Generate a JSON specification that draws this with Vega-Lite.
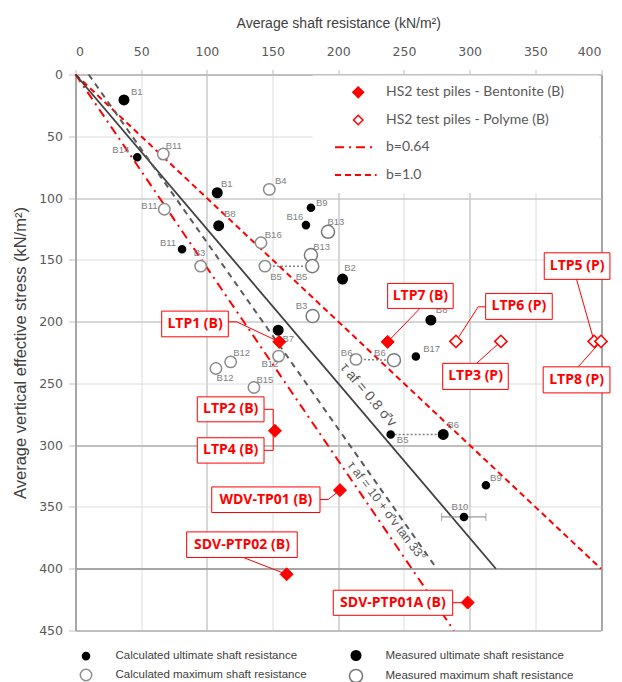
{
  "$schema": "https://vega.github.io/schema/vega-lite/v6.json",
  "width": 525.5,
  "height": 556,
  "autosize": {"type": "none"},
  "padding": {"left": 75.5, "top": 74.5, "right": 21, "bottom": 51.5},
  "background": "white",
  "config": {"view": {"stroke": null}},
  "datasets": {
    "bores": [
      {"name": "B1", "type": "Measured ultimate shaft resistance", "x": 36.9, "y": 20.6},
      {"name": "B1", "type": "Measured ultimate shaft resistance", "x": 107.9, "y": 95.7},
      {"name": "B8", "type": "Measured ultimate shaft resistance", "x": 109.0, "y": 122.4},
      {"name": "B2", "type": "Measured ultimate shaft resistance", "x": 203.3, "y": 165.6},
      {"name": "B7", "type": "Measured ultimate shaft resistance", "x": 154.3, "y": 206.9},
      {"name": "B8", "type": "Measured ultimate shaft resistance", "x": 270.5, "y": 198.8},
      {"name": "B6", "type": "Measured ultimate shaft resistance", "x": 279.9, "y": 291.3},
      {"name": "B14", "type": "Calculated ultimate shaft resistance", "x": 47.0, "y": 67.0},
      {"name": "B11", "type": "Calculated ultimate shaft resistance", "x": 81.1, "y": 141.5},
      {"name": "B9", "type": "Calculated ultimate shaft resistance", "x": 179.2, "y": 107.9},
      {"name": "B16", "type": "Calculated ultimate shaft resistance", "x": 175.4, "y": 121.9},
      {"name": "B17", "type": "Calculated ultimate shaft resistance", "x": 259.1, "y": 228.2},
      {"name": "B5", "type": "Calculated ultimate shaft resistance", "x": 239.9, "y": 291.3},
      {"name": "B9", "type": "Calculated ultimate shaft resistance", "x": 312.4, "y": 332.4},
      {"name": "B10", "type": "Calculated ultimate shaft resistance", "x": 295.7, "y": 358.1},
      {"name": "B11", "type": "Calculated maximum shaft resistance", "x": 66.8, "y": 64.4},
      {"name": "B11", "type": "Calculated maximum shaft resistance", "x": 67.6, "y": 109.1},
      {"name": "B3", "type": "Calculated maximum shaft resistance", "x": 95.3, "y": 155.1},
      {"name": "B4", "type": "Calculated maximum shaft resistance", "x": 147.5, "y": 93.0},
      {"name": "B16", "type": "Calculated maximum shaft resistance", "x": 141.2, "y": 136.2},
      {"name": "B5", "type": "Calculated maximum shaft resistance", "x": 144.2, "y": 155.1},
      {"name": "B6", "type": "Calculated maximum shaft resistance", "x": 213.5, "y": 230.6},
      {"name": "B12", "type": "Calculated maximum shaft resistance", "x": 118.1, "y": 232.6},
      {"name": "B12", "type": "Calculated maximum shaft resistance", "x": 106.9, "y": 237.9},
      {"name": "B12", "type": "Calculated maximum shaft resistance", "x": 154.6, "y": 227.9},
      {"name": "B15", "type": "Calculated maximum shaft resistance", "x": 135.8, "y": 253.3},
      {"name": "B13", "type": "Measured maximum shaft resistance", "x": 192.2, "y": 127.3},
      {"name": "B13", "type": "Measured maximum shaft resistance", "x": 179.2, "y": 146.2},
      {"name": "B5", "type": "Measured maximum shaft resistance", "x": 180.2, "y": 155.1},
      {"name": "B3", "type": "Measured maximum shaft resistance", "x": 180.5, "y": 195.5},
      {"name": "B6", "type": "Measured maximum shaft resistance", "x": 242.4, "y": 231.2}
    ],
    "tags": [
      {"text": "B1", "x": 46.6, "y": 13.9},
      {"text": "B14", "x": 34.5, "y": 61.1},
      {"text": "B11", "x": 74.8, "y": 57.9},
      {"text": "B1", "x": 115.1, "y": 88.9},
      {"text": "B11", "x": 56.3, "y": 106.5},
      {"text": "B8", "x": 117.4, "y": 113.2},
      {"text": "B11", "x": 70.4, "y": 136.7},
      {"text": "B3", "x": 94.4, "y": 144.8},
      {"text": "B4", "x": 156.2, "y": 86.0},
      {"text": "B9", "x": 187.4, "y": 104.3},
      {"text": "B16", "x": 167.0, "y": 115.1},
      {"text": "B13", "x": 198.2, "y": 119.2},
      {"text": "B16", "x": 150.5, "y": 130.0},
      {"text": "B13", "x": 187.4, "y": 139.4},
      {"text": "B5", "x": 152.6, "y": 163.7},
      {"text": "B5", "x": 172.1, "y": 163.7},
      {"text": "B3", "x": 172.1, "y": 187.4},
      {"text": "B7", "x": 161.9, "y": 214.4},
      {"text": "B2", "x": 208.9, "y": 156.9},
      {"text": "B8", "x": 278.7, "y": 190.7},
      {"text": "B17", "x": 271.1, "y": 222.5},
      {"text": "B6", "x": 206.4, "y": 225.3},
      {"text": "B6", "x": 231.7, "y": 225.3},
      {"text": "B5", "x": 249.0, "y": 296.0},
      {"text": "B6", "x": 287.5, "y": 283.8},
      {"text": "B12", "x": 126.5, "y": 225.3},
      {"text": "B12", "x": 113.8, "y": 246.0},
      {"text": "B12", "x": 148.0, "y": 234.7},
      {"text": "B15", "x": 144.2, "y": 247.4},
      {"text": "B9", "x": 320.0, "y": 326.7},
      {"text": "B10", "x": 292.6, "y": 350.0}
    ],
    "piles": [
      {"name": "LTP1 (B)", "fluid": "Bentonite", "x": 155.1, "y": 216.4},
      {"name": "LTP7 (B)", "fluid": "Bentonite", "x": 237.6, "y": 216.4},
      {"name": "LTP2 (B) / LTP4 (B)", "fluid": "Bentonite", "x": 151.8, "y": 288.4},
      {"name": "WDV-TP01 (B)", "fluid": "Bentonite", "x": 201.3, "y": 336.4},
      {"name": "SDV-PTP02 (B)", "fluid": "Bentonite", "x": 160.7, "y": 404.5},
      {"name": "SDV-PTP01A (B)", "fluid": "Bentonite", "x": 298.5, "y": 427.4},
      {"name": "LTP6 (P)", "fluid": "Polyme", "x": 289.6, "y": 216},
      {"name": "LTP3 (P)", "fluid": "Polyme", "x": 323.8, "y": 216},
      {"name": "LTP5 (P)", "fluid": "Polyme", "x": 394.8, "y": 216},
      {"name": "LTP8 (P)", "fluid": "Polyme", "x": 400, "y": 216}
    ],
    "callouts": [
      {"label": "LTP1 (B)", "x1": 65.6, "x2": 116.3, "y1": 191.5, "y2": 212.3, "cx": 91.0, "cy": 201.9},
      {"label": "LTP7 (B)", "x1": 237.6, "x2": 287.5, "y1": 169.1, "y2": 189.3, "cx": 262.5, "cy": 179.2},
      {"label": "LTP6 (P)", "x1": 312.2, "x2": 362.9, "y1": 177.2, "y2": 198.2, "cx": 337.5, "cy": 187.7},
      {"label": "LTP5 (P)", "x1": 356.8, "x2": 406.8, "y1": 144.3, "y2": 165.8, "cx": 381.8, "cy": 155.0},
      {"label": "LTP3 (P)", "x1": 279.5, "x2": 329.4, "y1": 233.8, "y2": 254.9, "cx": 304.5, "cy": 244.3},
      {"label": "LTP8 (P)", "x1": 356.0, "x2": 406.8, "y1": 236.6, "y2": 257.7, "cx": 381.4, "cy": 247.1},
      {"label": "LTP2 (B)", "x1": 92.7, "x2": 143.5, "y1": 260.9, "y2": 281.1, "cx": 118.1, "cy": 271.0},
      {"label": "LTP4 (B)", "x1": 92.7, "x2": 143.5, "y1": 294.0, "y2": 314.5, "cx": 118.1, "cy": 304.2},
      {"label": "WDV-TP01 (B)", "x1": 103.7, "x2": 186.1, "y1": 333.8, "y2": 354.5, "cx": 144.9, "cy": 344.1},
      {"label": "SDV-PTP02 (B)", "x1": 84.6, "x2": 168.8, "y1": 370.2, "y2": 390.9, "cx": 126.7, "cy": 380.5},
      {"label": "SDV-PTP01A (B)", "x1": 196.2, "x2": 287.1, "y1": 417.4, "y2": 437.7, "cx": 241.6, "cy": 427.5}
    ],
    "leaders": [
      {"id": "LTP1", "ord": 0, "x": 116.3, "y": 200.2},
      {"id": "LTP1", "ord": 1, "x": 122.7, "y": 200.2},
      {"id": "LTP1", "ord": 2, "x": 155.1, "y": 216.4},
      {"id": "LTP7", "ord": 0, "x": 262.2, "y": 189.3},
      {"id": "LTP7", "ord": 1, "x": 237.6, "y": 216.4},
      {"id": "LTP6", "ord": 0, "x": 312.2, "y": 188.0},
      {"id": "LTP6", "ord": 1, "x": 306.5, "y": 188.0},
      {"id": "LTP6", "ord": 2, "x": 289.6, "y": 216.0},
      {"id": "LTP5", "ord": 0, "x": 381.4, "y": 165.8},
      {"id": "LTP5", "ord": 1, "x": 394.8, "y": 216.0},
      {"id": "LTP3", "ord": 0, "x": 305.3, "y": 233.8},
      {"id": "LTP3", "ord": 1, "x": 323.8, "y": 216.0},
      {"id": "LTP8", "ord": 0, "x": 382.6, "y": 236.6},
      {"id": "LTP8", "ord": 1, "x": 400.0, "y": 216.0},
      {"id": "LTP2", "ord": 0, "x": 143.5, "y": 271.0},
      {"id": "LTP2", "ord": 1, "x": 150.5, "y": 271.0},
      {"id": "LTP2", "ord": 2, "x": 150.5, "y": 288.4},
      {"id": "LTP4", "ord": 0, "x": 143.5, "y": 304.2},
      {"id": "LTP4", "ord": 1, "x": 150.5, "y": 304.2},
      {"id": "LTP4", "ord": 2, "x": 150.5, "y": 288.4},
      {"id": "WDV", "ord": 0, "x": 186.1, "y": 344.0},
      {"id": "WDV", "ord": 1, "x": 192.4, "y": 344.0},
      {"id": "WDV", "ord": 2, "x": 201.3, "y": 336.4},
      {"id": "SDV02", "ord": 0, "x": 127.7, "y": 390.9},
      {"id": "SDV02", "ord": 1, "x": 160.7, "y": 404.5},
      {"id": "SDV01A", "ord": 0, "x": 287.1, "y": 427.5},
      {"id": "SDV01A", "ord": 1, "x": 298.5, "y": 427.4}
    ],
    "lines": [
      {"line": "b=1.0", "x": 0, "y": 0},
      {"line": "b=1.0", "x": 400, "y": 400},
      {"line": "b=0.64", "x": 0, "y": 0},
      {"line": "b=0.64", "x": 288, "y": 450},
      {"line": "0.8", "x": 0, "y": 0},
      {"line": "0.8", "x": 320, "y": 400},
      {"line": "tan33", "x": 10, "y": 0},
      {"line": "tan33", "x": 275, "y": 400}
    ],
    "links": [
      {"pair": "a", "x": 144.2, "y": 155.1},
      {"pair": "a", "x": 180.2, "y": 155.1},
      {"pair": "b", "x": 213.5, "y": 230.6},
      {"pair": "b", "x": 242.4, "y": 231.2},
      {"pair": "c", "x": 239.9, "y": 291.3},
      {"pair": "c", "x": 279.9, "y": 291.3}
    ],
    "range": [
      {"name": "B10", "lo": 278.7, "hi": 312.4, "y": 358.1}
    ],
    "key": [
      {"label": "HS2 test piles - Bentonite (B)", "fluid": "Bentonite", "y": 14.4},
      {"label": "HS2 test piles - Polyme (B)", "fluid": "Polyme", "y": 36.8},
      {"label": "b=0.64", "line": "b=0.64", "y": 58.9},
      {"label": "b=1.0", "line": "b=1.0", "y": 81.4}
    ],
    "formulas": [
      {"text": "τ af = 0.8 σ̄′v", "x": 222.8, "y": 259.5},
      {"text": "τ af = 10 + σ̄′v tan 33°", "x": 236.8, "y": 353.3}
    ]
  },
  "encoding": {
    "x": {
      "type": "quantitative",
      "scale": {"domain": [0, 400], "nice": false, "zero": false},
      "axis": {
        "orient": "top",
        "values": [0, 50, 100, 150, 200, 250, 300, 350, 400],
        "title": "Average shaft resistance  (kN/m²)",
        "titleFont": "Liberation Sans",
        "titleFontSize": 14,
        "titleFontWeight": "normal",
        "titleColor": "#404040",
        "titlePadding": 15,
        "labelFont": "DejaVu Sans",
        "labelFontSize": 12.5,
        "labelColor": "#595959",
        "labelPadding": 11,
        "tickSize": 5,
        "tickColor": "#bfbfbf",
        "domainColor": "#bfbfbf",
        "domainWidth": 2,
        "grid": true,
        "gridColor": {"condition": [{"test": "datum.value === 400", "value": "#a6a6a6"}, {"test": "datum.value % 100 === 0", "value": "#c8c8c8"}], "value": "#dcdcdc"},
        "gridWidth": {"condition": [{"test": "datum.value === 400", "value": 2}, {"test": "datum.value % 100 === 0", "value": 1.5}], "value": 1}
      }
    },
    "y": {
      "type": "quantitative",
      "scale": {"domain": [0, 450], "reverse": true, "nice": false, "zero": false},
      "axis": {
        "values": [0, 50, 100, 150, 200, 250, 300, 350, 400, 450],
        "title": "Average vertical effective stress  (kN/m²)",
        "titleFont": "Liberation Sans",
        "titleFontSize": 16.5,
        "titleFontWeight": "normal",
        "titleColor": "#404040",
        "titleX": -47,
        "labelFont": "DejaVu Sans",
        "labelFontSize": 12.5,
        "labelColor": "#595959",
        "labelPadding": 6,
        "tickSize": 7,
        "tickColor": "#bfbfbf",
        "domainColor": "#a6a6a6",
        "domainWidth": 2,
        "grid": true,
        "gridColor": {"condition": [{"test": "datum.value === 400", "value": "#a6a6a6"}, {"test": "datum.value === 300 || datum.value === 450", "value": "#bfbfbf"}, {"test": "datum.value % 100 === 0", "value": "#c8c8c8"}], "value": "#dcdcdc"},
        "gridWidth": {"condition": [{"test": "datum.value === 400 || datum.value === 300 || datum.value === 450", "value": 2}, {"test": "datum.value % 100 === 0", "value": 1.5}], "value": 1}
      }
    }
  },
  "layer": [
    {
      "data": {"values": [{"box": "legend"}]},
      "mark": {"type": "rect", "fill": "white", "stroke": null},
      "encoding": {
        "x": {"datum": 180.5},
        "x2": {"datum": 398.5},
        "y": {"datum": 0.9},
        "y2": {"datum": 96}
      }
    },
    {
      "data": {"name": "lines"},
      "transform": [{"filter": "datum.line === 'b=0.64' || datum.line === 'b=1.0'"}],
      "mark": {"type": "line", "strokeWidth": 2, "stroke": "#ff0000", "clip": false},
      "encoding": {
        "x": {"field": "x", "type": "quantitative"},
        "y": {"field": "y", "type": "quantitative"},
        "detail": {"field": "line"},
        "strokeDash": {"field": "line", "type": "nominal", "legend": null,
          "scale": {"domain": ["b=0.64", "b=1.0"], "range": [[9, 5, 2, 5], [6, 4]]}}
      }
    },
    {
      "data": {"name": "lines"},
      "transform": [{"filter": "datum.line === '0.8'"}],
      "mark": {"type": "line", "strokeWidth": 1.8, "stroke": "#404040"},
      "encoding": {
        "x": {"field": "x", "type": "quantitative"},
        "y": {"field": "y", "type": "quantitative"}
      }
    },
    {
      "data": {"name": "lines"},
      "transform": [{"filter": "datum.line === 'tan33'"}],
      "mark": {"type": "line", "strokeWidth": 2, "stroke": "#5a5a5a", "strokeDash": [6, 5]},
      "encoding": {
        "x": {"field": "x", "type": "quantitative"},
        "y": {"field": "y", "type": "quantitative"}
      }
    },
    {
      "data": {"name": "links"},
      "mark": {"type": "line", "stroke": "#808080", "strokeWidth": 1.5, "strokeDash": [2, 2]},
      "encoding": {
        "x": {"field": "x", "type": "quantitative"},
        "y": {"field": "y", "type": "quantitative"},
        "detail": {"field": "pair"}
      }
    },
    {
      "data": {"name": "range"},
      "mark": {"type": "rule", "stroke": "#808080", "strokeWidth": 1},
      "encoding": {
        "x": {"field": "lo", "type": "quantitative"},
        "x2": {"field": "hi"},
        "y": {"field": "y", "type": "quantitative"}
      }
    },
    {
      "data": {"name": "range"},
      "mark": {"type": "tick", "orient": "vertical", "color": "#808080", "size": 8, "thickness": 1},
      "encoding": {
        "x": {"field": "lo", "type": "quantitative"},
        "y": {"field": "y", "type": "quantitative"}
      }
    },
    {
      "data": {"name": "range"},
      "mark": {"type": "tick", "orient": "vertical", "color": "#808080", "size": 8, "thickness": 1},
      "encoding": {
        "x": {"field": "hi", "type": "quantitative"},
        "y": {"field": "y", "type": "quantitative"}
      }
    },
    {
      "data": {"name": "bores"},
      "mark": {"type": "point", "shape": "circle", "filled": true, "strokeWidth": 1.5, "opacity": 1},
      "encoding": {
        "x": {"field": "x", "type": "quantitative"},
        "y": {"field": "y", "type": "quantitative"},
        "fill": {"field": "type", "type": "nominal",
          "scale": {"domain": ["Calculated ultimate shaft resistance", "Measured ultimate shaft resistance", "Calculated maximum shaft resistance", "Measured maximum shaft resistance"], "range": ["#000000", "#000000", "#ffffff", "#ffffff"]},
          "legend": {"orient": "none", "legendX": 3, "legendY": 575, "columns": 2, "direction": "horizontal", "title": null, "padding": 0,
            "labelFont": "Liberation Sans", "labelFontSize": 11.5, "labelColor": "#404040", "labelOffset": 22, "labelLimit": 300,
            "columnPadding": 38, "rowPadding": 2, "symbolStrokeWidth": 1.5}},
        "stroke": {"field": "type", "type": "nominal",
          "scale": {"domain": ["Calculated ultimate shaft resistance", "Measured ultimate shaft resistance", "Calculated maximum shaft resistance", "Measured maximum shaft resistance"], "range": ["#000000", "#000000", "#8c8c8c", "#7a7a7a"]},
          "legend": {"orient": "none", "legendX": 3, "legendY": 575, "columns": 2, "direction": "horizontal", "title": null, "padding": 0,
            "labelFont": "Liberation Sans", "labelFontSize": 11.5, "labelColor": "#404040", "labelOffset": 22, "labelLimit": 300,
            "columnPadding": 38, "rowPadding": 2, "symbolStrokeWidth": 1.5}},
        "size": {"field": "type", "type": "nominal",
          "scale": {"domain": ["Calculated ultimate shaft resistance", "Measured ultimate shaft resistance", "Calculated maximum shaft resistance", "Measured maximum shaft resistance"], "range": [50, 170, 70, 130]},
          "legend": {"orient": "none", "legendX": 3, "legendY": 575, "columns": 2, "direction": "horizontal", "title": null, "padding": 0,
            "labelFont": "Liberation Sans", "labelFontSize": 11.5, "labelColor": "#404040", "labelOffset": 22, "labelLimit": 300,
            "columnPadding": 38, "rowPadding": 2, "symbolStrokeWidth": 1.5}}
      }
    },
    {
      "data": {"name": "tags"},
      "mark": {"type": "text", "font": "Liberation Sans", "fontSize": 9.5, "fill": "#7f7f7f", "align": "center", "baseline": "middle"},
      "encoding": {
        "x": {"field": "x", "type": "quantitative"},
        "y": {"field": "y", "type": "quantitative"},
        "text": {"field": "text"}
      }
    },
    {
      "data": {"name": "formulas"},
      "transform": [{"filter": "datum.x < 230"}],
      "mark": {"type": "text", "font": "Liberation Sans", "fontSize": 14, "fill": "#595959", "angle": 49.6, "align": "center", "baseline": "middle"},
      "encoding": {
        "x": {"field": "x", "type": "quantitative"},
        "y": {"field": "y", "type": "quantitative"},
        "text": {"field": "text"}
      }
    },
    {
      "data": {"name": "formulas"},
      "transform": [{"filter": "datum.x > 230"}],
      "mark": {"type": "text", "font": "Liberation Sans", "fontSize": 12.5, "fill": "#595959", "angle": 53, "align": "center", "baseline": "middle"},
      "encoding": {
        "x": {"field": "x", "type": "quantitative"},
        "y": {"field": "y", "type": "quantitative"},
        "text": {"field": "text"}
      }
    },
    {
      "data": {"name": "leaders"},
      "mark": {"type": "line", "stroke": "#ff0000", "strokeWidth": 1, "clip": false},
      "encoding": {
        "x": {"field": "x", "type": "quantitative"},
        "y": {"field": "y", "type": "quantitative"},
        "detail": {"field": "id"},
        "order": {"field": "ord"}
      }
    },
    {
      "data": {"name": "piles"},
      "transform": [{"filter": "datum.fluid === 'Bentonite'"}],
      "mark": {"type": "point", "shape": "diamond", "filled": true, "fill": "#ff0000", "stroke": "#ff0000", "strokeWidth": 1, "size": 170, "opacity": 1, "clip": false},
      "encoding": {
        "x": {"field": "x", "type": "quantitative"},
        "y": {"field": "y", "type": "quantitative"}
      }
    },
    {
      "data": {"name": "piles"},
      "transform": [{"filter": "datum.fluid === 'Polyme'"}],
      "mark": {"type": "point", "shape": "diamond", "filled": true, "fill": "#ffffff", "stroke": "#ff0000", "strokeWidth": 1.5, "size": 150, "opacity": 1, "clip": false},
      "encoding": {
        "x": {"field": "x", "type": "quantitative"},
        "y": {"field": "y", "type": "quantitative"}
      }
    },
    {
      "data": {"name": "callouts"},
      "mark": {"type": "rect", "fill": "#ffffff", "stroke": "#ff0000", "strokeWidth": 1, "clip": false},
      "encoding": {
        "x": {"field": "x1", "type": "quantitative"},
        "x2": {"field": "x2"},
        "y": {"field": "y1", "type": "quantitative"},
        "y2": {"field": "y2"}
      }
    },
    {
      "data": {"name": "callouts"},
      "mark": {"type": "text", "font": "Open Sans", "fontSize": 14, "fontWeight": "bold", "fill": "#ff0000", "align": "center", "baseline": "middle", "clip": false},
      "encoding": {
        "x": {"field": "cx", "type": "quantitative"},
        "y": {"field": "cy", "type": "quantitative"},
        "text": {"field": "label"}
      }
    },
    {
      "data": {"name": "key"},
      "transform": [{"filter": "datum.fluid === 'Bentonite'"}],
      "mark": {"type": "point", "shape": "diamond", "filled": true, "fill": "#ff0000", "stroke": "#ff0000", "size": 100, "opacity": 1},
      "encoding": {
        "x": {"datum": 215.2},
        "y": {"field": "y", "type": "quantitative"}
      }
    },
    {
      "data": {"name": "key"},
      "transform": [{"filter": "datum.fluid === 'Polyme'"}],
      "mark": {"type": "point", "shape": "diamond", "filled": true, "fill": "#ffffff", "stroke": "#ff0000", "strokeWidth": 1.5, "size": 90, "opacity": 1},
      "encoding": {
        "x": {"datum": 215.2},
        "y": {"field": "y", "type": "quantitative"}
      }
    },
    {
      "data": {"name": "key"},
      "transform": [{"filter": "isValid(datum.line)"}],
      "mark": {"type": "rule", "stroke": "#ff0000", "strokeWidth": 2},
      "encoding": {
        "x": {"datum": 197.5},
        "x2": {"datum": 229.2},
        "y": {"field": "y", "type": "quantitative"},
        "strokeDash": {"field": "line", "type": "nominal", "legend": null,
          "scale": {"domain": ["b=0.64", "b=1.0"], "range": [[9, 5, 2, 5], [6, 4]]}}
      }
    },
    {
      "data": {"name": "key"},
      "mark": {"type": "text", "font": "Lato", "fontSize": 14, "fill": "#595959", "align": "left", "baseline": "middle"},
      "encoding": {
        "x": {"datum": 236.3},
        "y": {"field": "y", "type": "quantitative"},
        "text": {"field": "label"}
      }
    }
  ]
}
